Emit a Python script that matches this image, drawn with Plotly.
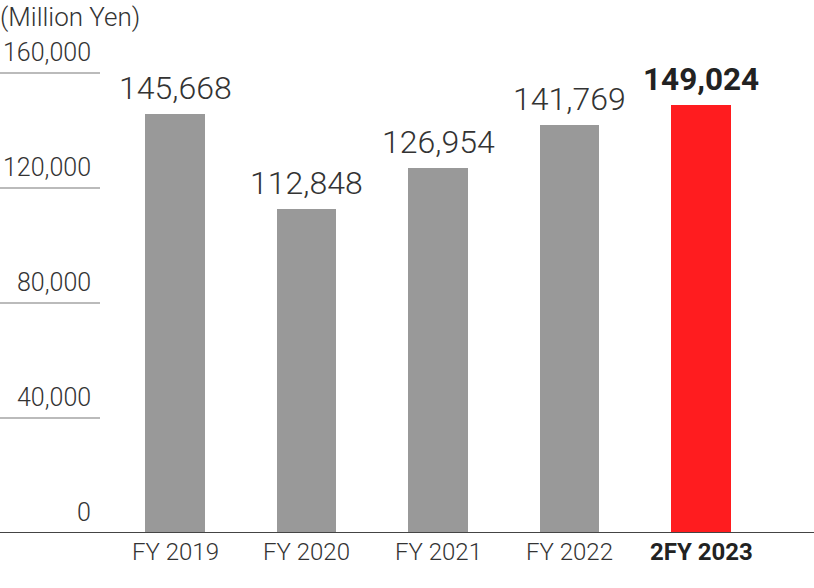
import plotly.graph_objects as go

categories = ["FY 2019", "FY 2020", "FY 2021", "FY 2022", "2FY 2023"]
values = [145668, 112848, 126954, 141769, 149024]
value_labels = ["145,668", "112,848", "126,954", "141,769", "149,024"]
tick_values = [0, 40000, 80000, 120000, 160000]
tick_labels = ["0", "40,000", "80,000", "120,000", "160,000"]
unit_label = "(Million Yen)"

bar_colors = ["#999999"] * 4 + ["#ff1c1f"]
font_fam = "Roboto"
text_col = "#333333"

x_pos = list(range(len(categories)))

fig = go.Figure()
fig.add_trace(go.Bar(
    x=x_pos, y=values, width=0.455,
    marker=dict(color=bar_colors, line=dict(width=0)),
    hoverinfo="skip",
))

annotations = []
# value labels
for i, (v, lab) in enumerate(zip(values, value_labels)):
    last = i == len(values) - 1
    annotations.append(dict(
        x=i, y=v, xref="x", yref="y", text=lab, showarrow=False,
        xanchor="center", yanchor="bottom", yshift=5,
        font=dict(family=font_fam, size=32 if not last else 31.5,
                  color="#222222" if last else text_col,
                  weight=700 if last else 300),
    ))
# category labels
for i, c in enumerate(categories):
    last = i == len(categories) - 1
    annotations.append(dict(
        x=i, y=0, xref="x", yref="y", text=c, showarrow=False,
        xanchor="center", yanchor="top", yshift=-3,
        font=dict(family=font_fam, size=24, color="#222222" if last else text_col,
                  weight=700 if last else 300),
    ))
# y tick labels above short gridlines
shapes = []
for tv, tl in zip(tick_values, tick_labels):
    annotations.append(dict(
        x=93 / 814, y=tv, xref="paper", yref="y", text=tl, showarrow=False,
        xanchor="right", yanchor="bottom", yshift=4,
        font=dict(family=font_fam, size=25, color=text_col, weight=300),
    ))
    if tv > 0:
        shapes.append(dict(type="line", xref="paper", yref="y",
                           x0=0, x1=100 / 814, y0=tv, y1=tv,
                           line=dict(color="#bbbbbb", width=2)))
# unit label
annotations.append(dict(
    x=0, y=1, xref="paper", yref="paper", text=unit_label, showarrow=False,
    xanchor="left", yanchor="top", yshift=0, xshift=-2,
    font=dict(family=font_fam, size=26, color=text_col, weight=300),
))
# baseline
shapes.append(dict(type="line", xref="paper", yref="y", x0=0, x1=1, y0=0, y1=0,
                   line=dict(color="#444444", width=2)))

fig.update_layout(
    width=814, height=588,
    margin=dict(l=0, r=0, t=0, b=55),
    plot_bgcolor="white", paper_bgcolor="white",
    showlegend=False,
    xaxis=dict(range=[-175 / 131.5, (814 - 175) / 131.5], visible=False, fixedrange=True),
    yaxis=dict(range=[0, 533 / 2.875 * 1000], visible=False, fixedrange=True),
    annotations=annotations, shapes=shapes,
    bargap=0,
)

fig.write_html("out.html", config={"displayModeBar": False},
               post_script="document.body.style.margin='0';document.body.style.overflow='hidden';")
